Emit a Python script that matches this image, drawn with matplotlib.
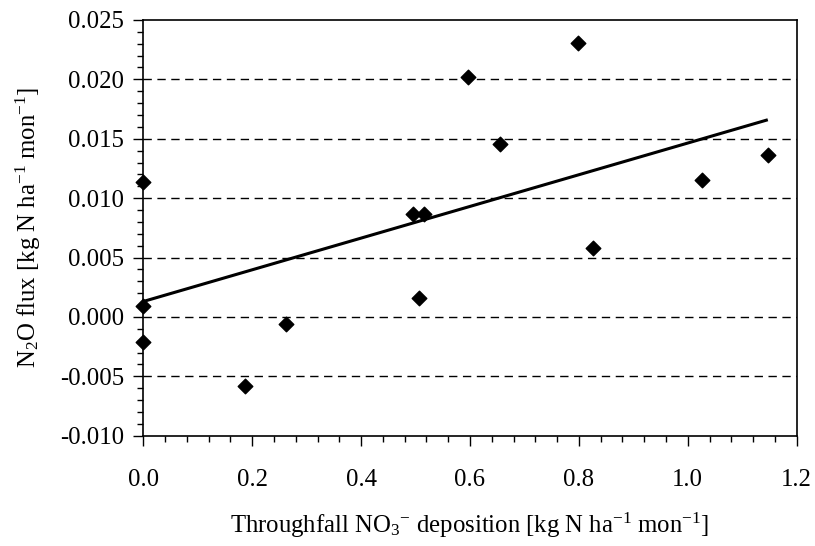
import matplotlib
matplotlib.use("Agg")
import matplotlib.pyplot as plt
from matplotlib.ticker import MultipleLocator, FormatStrFormatter

# throughfall NO3- deposition vs N2O flux
deposition = [0.0, 0.0, 0.0, 0.186, 0.263, 0.496, 0.506, 0.515,
              0.597, 0.656, 0.798, 0.826, 1.027, 1.147]
n2o_flux = [0.0114, 0.0009, -0.0021, -0.0058, -0.0006, 0.0087, 0.0016, 0.0087,
            0.0202, 0.0146, 0.0231, 0.0058, 0.0115, 0.0136]

# linear trend line (end points)
fit_x = [0.0, 1.147]
fit_y = [0.0013, 0.0166]

plt.rcParams["font.family"] = ["Liberation Serif", "DejaVu Serif"]
plt.rcParams["mathtext.fontset"] = "custom"
plt.rcParams["mathtext.rm"] = "Liberation Serif"
plt.rcParams["mathtext.it"] = "Liberation Serif:italic"

fig = plt.figure(figsize=(8.15, 5.46), dpi=100)
ax = fig.add_axes([0.1758, 0.202, 0.8017, 0.7614])

for yv in [-0.005, 0.0, 0.005, 0.010, 0.015, 0.020]:
    ax.axhline(yv, color="black", lw=1.0, dashes=(6, 4), zorder=1)

ax.plot(fit_x, fit_y, color="black", lw=2.2, zorder=2, solid_capstyle="butt")
ax.scatter(deposition, n2o_flux, marker="D", s=55, color="black", zorder=3,
           clip_on=False)

ax.set_xlim(0, 1.2)
ax.set_ylim(-0.010, 0.025)
ax.xaxis.set_major_locator(MultipleLocator(0.2))
ax.xaxis.set_minor_locator(MultipleLocator(0.04))
ax.yaxis.set_major_locator(MultipleLocator(0.005))
ax.yaxis.set_minor_locator(MultipleLocator(0.001))
ax.xaxis.set_major_formatter(FormatStrFormatter("%.1f"))
ax.yaxis.set_major_formatter(FormatStrFormatter("%.3f"))

ax.tick_params(which="both", direction="out", top=False, right=False,
               color="black", width=1.0, labelsize=17.8)
ax.tick_params(which="major", length=7)
ax.tick_params(which="minor", length=4)
ax.tick_params(axis="x", which="major", pad=17)
ax.tick_params(axis="y", which="major", pad=7)
for s in ax.spines.values():
    s.set_linewidth(1.2)
    s.set_color("black")

ax.set_xlabel("Throughfall NO$_3$$^{\u2212}$ deposition [kg N ha$^{\u22121}$ mon$^{\u22121}$]",
              fontsize=17.8, labelpad=14)
ax.set_ylabel("N$_2$O flux [kg N ha$^{\u22121}$ mon$^{\u22121}$]", fontsize=17.8,
              labelpad=12)

fig.savefig("out.png", dpi=100, facecolor="white")
